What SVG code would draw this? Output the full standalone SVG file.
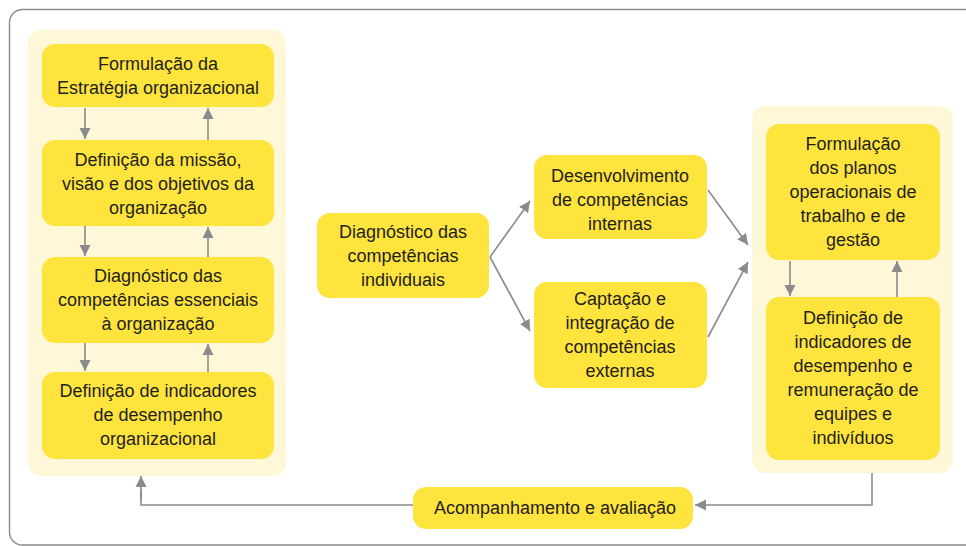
<svg xmlns="http://www.w3.org/2000/svg" width="966" height="546" viewBox="0 0 966 546">
<defs>
<marker id="ah" markerUnits="userSpaceOnUse" markerWidth="12" markerHeight="12" viewBox="0 0 12 12" refX="11" refY="6" orient="auto">
<path d="M0,0.5 L11,6 L0,11.5 Z" fill="#8a8b8d"/>
</marker>
<style>
.panel{fill:#fff8d8}
.box{fill:#fee43c}
.t{font-family:"Liberation Sans",Arial,Helvetica,sans-serif;font-size:18px;fill:#231f20;text-anchor:middle}
.c{stroke:#8a8b8d;stroke-width:1.6;fill:none}
.a{stroke:#8a8b8d;stroke-width:1.6;fill:none;marker-end:url(#ah)}
</style>
</defs>
<rect x="0" y="0" width="966" height="546" fill="#ffffff"/>
<rect x="9.5" y="9.5" width="980" height="535.5" rx="13" fill="none" stroke="#8a8b8d" stroke-width="1.4"/>
<g id="panel-left"><rect class="panel" x="28" y="30" width="258" height="446" rx="13"/></g>
<g id="panel-right"><rect class="panel" x="752" y="106" width="201" height="367" rx="13"/></g>
<g id="n1"><rect class="box" x="42" y="44" width="232" height="63" rx="13"/>
<text class="t" x="158" y="70">Formulação da</text><text class="t" x="158" y="94">Estratégia organizacional</text></g>
<g id="n2"><rect class="box" x="42" y="140" width="232" height="86" rx="13"/>
<text class="t" x="158" y="166">Definição da missão,</text><text class="t" x="158" y="190">visão e dos objetivos da</text><text class="t" x="158" y="214">organização</text></g>
<g id="n3"><rect class="box" x="42" y="257" width="232" height="86" rx="13"/>
<text class="t" x="158" y="282">Diagnóstico das</text><text class="t" x="158" y="306">competências essenciais</text><text class="t" x="158" y="330">à organização</text></g>
<g id="n4"><rect class="box" x="42" y="372" width="232" height="87" rx="13"/>
<text class="t" x="158" y="397">Definição de indicadores</text><text class="t" x="158" y="421">de desempenho</text><text class="t" x="158" y="445">organizacional</text></g>
<g id="n5"><rect class="box" x="317" y="213" width="172" height="85" rx="13"/>
<text class="t" x="403" y="238">Diagnóstico das</text><text class="t" x="403" y="262">competências</text><text class="t" x="403" y="286">individuais</text></g>
<g id="n6"><rect class="box" x="534" y="155" width="173" height="84" rx="13"/>
<text class="t" x="620" y="182">Desenvolvimento</text><text class="t" x="620" y="206">de competências</text><text class="t" x="620" y="230">internas</text></g>
<g id="n7"><rect class="box" x="534" y="282" width="173" height="106" rx="13"/>
<text class="t" x="620" y="305">Captação e</text><text class="t" x="620" y="329">integração de</text><text class="t" x="620" y="353">competências</text><text class="t" x="620" y="377">externas</text></g>
<g id="n8"><rect class="box" x="766" y="124" width="174" height="136" rx="13"/>
<text class="t" x="853" y="150">Formulação</text><text class="t" x="853" y="174">dos planos</text><text class="t" x="853" y="198">operacionais de</text><text class="t" x="853" y="222">trabalho e de</text><text class="t" x="853" y="246">gestão</text></g>
<g id="n9"><rect class="box" x="766" y="297" width="174" height="163" rx="13"/>
<text class="t" x="853" y="324">Definição de</text><text class="t" x="853" y="348">indicadores de</text><text class="t" x="853" y="372">desempenho e</text><text class="t" x="853" y="396">remuneração de</text><text class="t" x="853" y="420">equipes e</text><text class="t" x="853" y="444">indivíduos</text></g>
<g id="n10"><rect class="box" x="413" y="487" width="280" height="42" rx="13"/>
<text class="t" x="555" y="514">Acompanhamento e avaliação</text></g>
<g id="connectors">
<line class="a" x1="85" y1="108" x2="85" y2="139"/>
<line class="a" x1="208" y1="140" x2="208" y2="108"/>
<line class="a" x1="85" y1="226" x2="85" y2="256"/>
<line class="a" x1="208" y1="257" x2="208" y2="227"/>
<line class="a" x1="85" y1="343" x2="85" y2="371"/>
<line class="a" x1="208" y1="372" x2="208" y2="344"/>
<line class="a" x1="790" y1="261" x2="790" y2="296"/>
<line class="a" x1="897" y1="297" x2="897" y2="261"/>
<line class="a" x1="490" y1="257" x2="530" y2="201"/>
<line class="a" x1="490" y1="257" x2="530" y2="331"/>
<line class="a" x1="708" y1="190" x2="748" y2="245"/>
<line class="a" x1="708" y1="337" x2="748" y2="262"/>
<polyline class="a" points="872,473 872,505 695,505"/>
<polyline class="c" points="413,505 141,505 141,490"/>
<line class="a" x1="141" y1="500" x2="141" y2="476"/>
</g>
</svg>
